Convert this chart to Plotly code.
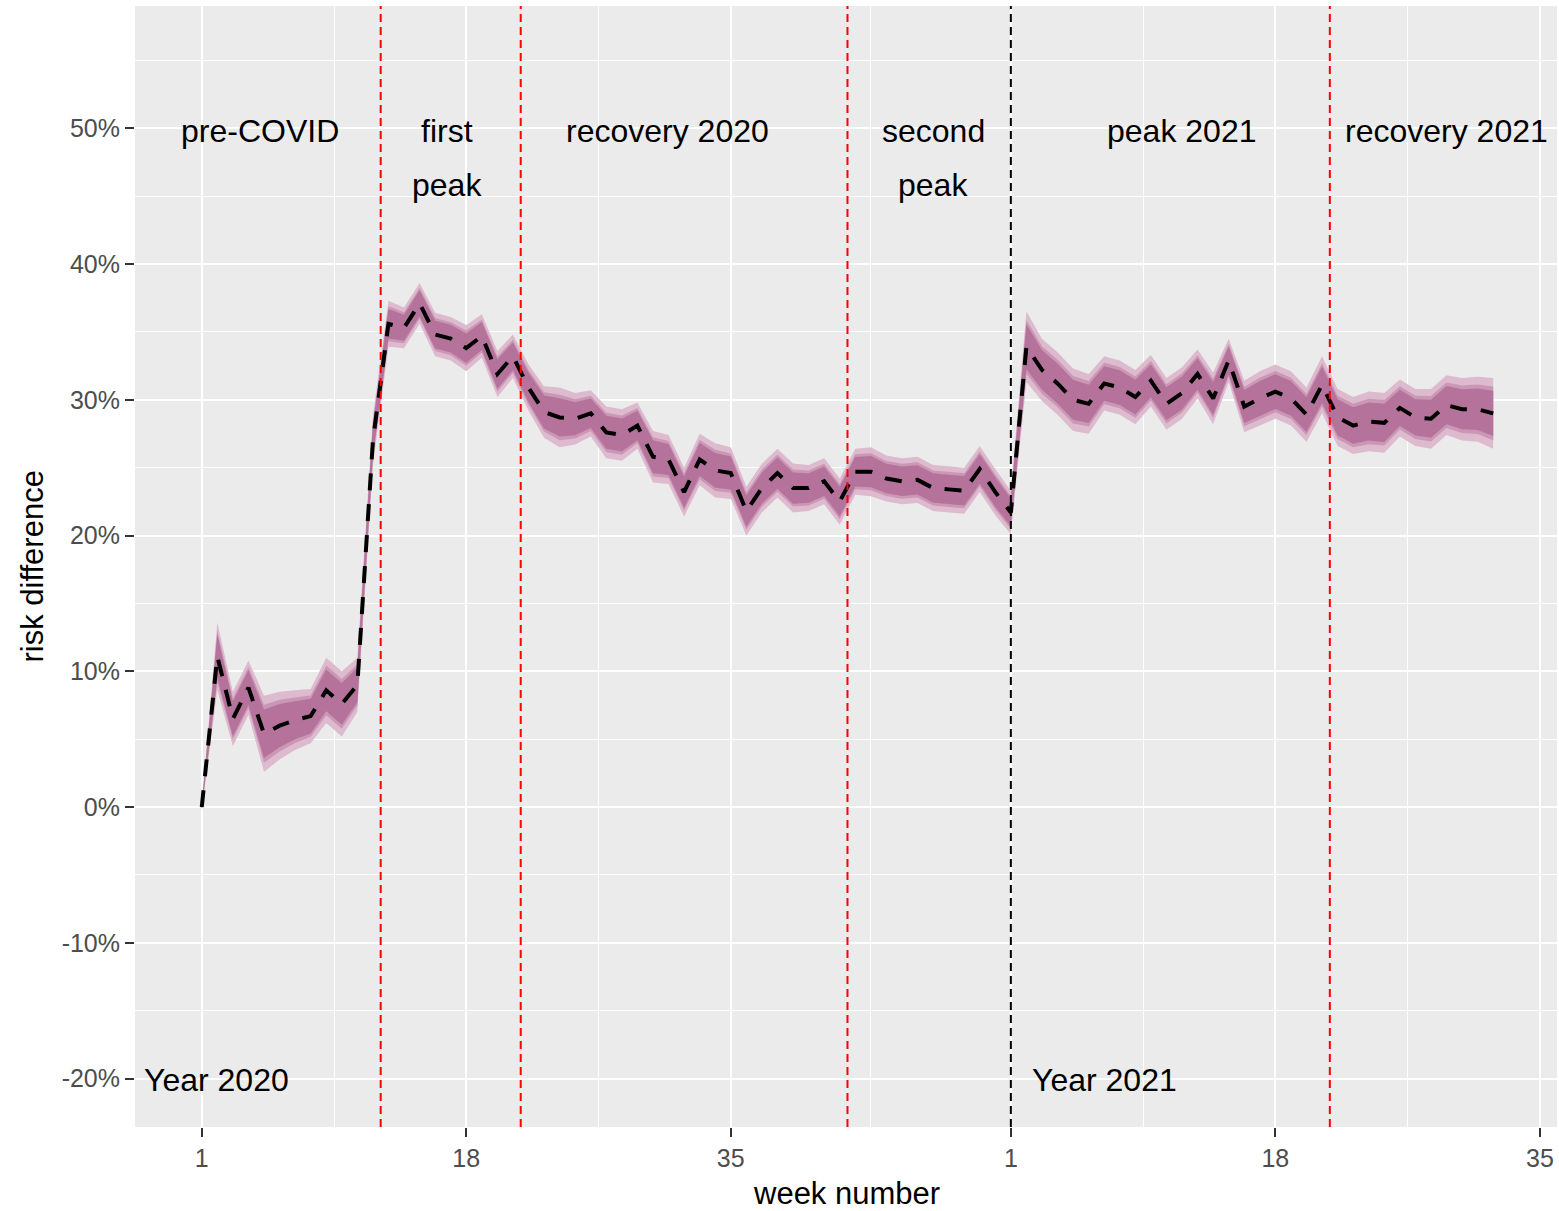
import plotly.graph_objects as go

# ---------------- data ----------------
# x position index: 2020 weeks 1..52, then 2021 week w at index 52 + w
week_index = list(range(1, 85))

risk_diff = [0, 11.1, 6.5, 8.8, 5.4, 6.0, 6.4, 6.7, 8.6, 7.6, 9.0,
             27.0, 35.6, 35.3, 37.1, 34.8, 34.5, 33.8, 34.7, 31.9, 33.2,
             30.9, 29.1, 28.7, 28.6, 29.0, 27.6, 27.4, 28.1, 25.8, 25.6,
             23.2, 25.6, 24.8, 24.6, 21.8, 23.5, 24.6, 23.5, 23.5, 24.0,
             22.5, 24.7, 24.7, 24.2, 24.0, 24.1, 23.5, 23.4, 23.3, 24.9, 23.2, 21.7,
             33.9, 32.2, 31.2, 30.0, 29.7, 31.2, 30.9, 30.2, 31.4, 29.7,
             30.5, 31.9, 30.1, 32.9, 29.5, 30.1, 30.6, 30.1, 28.9, 31.1,
             28.7, 28.1, 28.4, 28.3, 29.4, 28.7, 28.6, 29.6, 29.3, 29.3, 29.0]

# half-width of the widest (99%) interval, in percentage points
ci99_half = [0.2, 2.5, 2.0, 2.0, 2.8, 2.5, 2.2, 2.0, 2.4, 2.4, 2.0,
             1.8, 1.7, 1.5, 1.5, 1.6, 1.6, 1.7, 1.6, 1.7, 1.6,
             1.7, 1.9, 2.2, 1.9, 1.7, 1.9, 1.9, 1.7, 1.9, 1.8,
             1.8, 1.9, 2.0, 1.9, 1.8, 1.8, 1.8, 1.8, 1.7, 1.7,
             1.7, 1.7, 1.8, 1.7, 1.7, 1.7, 1.7, 1.7, 1.7, 1.7, 1.7, 1.6,
             2.6, 2.3, 2.3, 2.3, 2.2, 2.0, 2.0, 2.0, 1.9, 1.9,
             1.9, 1.8, 1.9, 1.6, 1.9, 2.0, 2.0, 2.0, 2.0, 2.1,
             2.1, 2.1, 2.2, 2.2, 2.1, 2.1, 2.2, 2.2, 2.3, 2.4, 2.6]

# z multipliers for 99%, 95%, 90% intervals
z_levels = [2.576, 1.96, 1.645]
band_colors = ["#DDBACE", "#CA97B5", "#B5739B"]

x_tickvals = [1, 18, 35, 53, 70, 87]
x_ticktext = ["1", "18", "35", "1", "18", "35"]
x_minor = [9.5, 26.5, 44, 61.5, 78.5]
y_tickvals = [-20, -10, 0, 10, 20, 30, 40, 50]
y_ticktext = ["-20%", "-10%", "0%", "10%", "20%", "30%", "40%", "50%"]
y_minor = [-15, -5, 5, 15, 25, 35, 45, 55]

red_lines = [12.5, 21.5, 42.5, 73.5]
black_lines = [53]

period_labels = ["pre-COVID", "first", "peak", "recovery 2020", "second", "peak",
                 "peak 2021", "recovery 2021"]
period_x = [4.75, 16.78, 16.78, 30.94, 48.0, 48.0, 63.96, 81.0]
period_y = [49.8, 49.8, 45.8, 49.8, 49.8, 45.8, 49.8, 49.8]

year_labels = ["Year 2020", "Year 2021"]
year_x = [-2.85, 54.2]
year_y = [-20.1, -20.1]

FONT = "Liberation Sans, Arial, sans-serif"

fig = go.Figure()

for z, col in zip(z_levels, band_colors):
    upper = [v + h * z / 2.576 for v, h in zip(risk_diff, ci99_half)]
    lower = [v - h * z / 2.576 for v, h in zip(risk_diff, ci99_half)]
    fig.add_trace(go.Scatter(
        x=week_index + week_index[::-1],
        y=upper + lower[::-1],
        fill="toself", fillcolor=col, mode="lines",
        line=dict(width=0, color=col), hoverinfo="skip", showlegend=False))

fig.add_trace(go.Scatter(
    x=week_index, y=risk_diff, mode="lines",
    line=dict(color="black", width=4, dash="17px,14px"),
    showlegend=False))

for xv in red_lines:
    fig.add_shape(type="line", xref="x", yref="paper", x0=xv, x1=xv, y0=0, y1=1,
                  line=dict(color="#FF0000", width=2, dash="8px,5px"), layer="above")
for xv in black_lines:
    fig.add_shape(type="line", xref="x", yref="paper", x0=xv, x1=xv, y0=0, y1=1,
                  line=dict(color="black", width=2, dash="8px,5px"), layer="above")

for t, xv, yv in zip(period_labels, period_x, period_y):
    fig.add_annotation(x=xv, y=yv, text=t, showarrow=False, xanchor="center",
                       yanchor="middle", font=dict(family=FONT, size=32, color="black"))
for t, xv, yv in zip(year_labels, year_x, year_y):
    fig.add_annotation(x=xv, y=yv, text=t, showarrow=False, xanchor="left",
                       yanchor="middle", font=dict(family=FONT, size=32, color="black"))

# axis titles
fig.add_annotation(xref="paper", yref="paper", x=0.5, y=0, yshift=-66,
                   text="week number", showarrow=False, xanchor="center", yanchor="middle",
                   font=dict(family=FONT, size=31, color="black"))
fig.add_annotation(xref="paper", yref="paper", x=0, y=0.5, xshift=-103,
                   text="risk difference", showarrow=False, textangle=-90,
                   xanchor="center", yanchor="middle",
                   font=dict(family=FONT, size=31, color="black"))

fig.update_layout(
    width=1559, height=1211,
    margin=dict(l=135, r=2, t=6, b=84),
    paper_bgcolor="white", plot_bgcolor="#EBEBEB",
    font=dict(family=FONT),
    showlegend=False,
)
fig.update_xaxes(
    range=[-3.29, 88.1], tickvals=x_tickvals, ticktext=x_ticktext,
    showgrid=True, gridcolor="white", gridwidth=2.2, zeroline=False,
    ticks="outside", ticklen=9, tickwidth=1.5, tickcolor="#333333",
    tickfont=dict(family=FONT, size=25, color="#4D4D4D"), showline=False,
    minor=dict(tickvals=x_minor, showgrid=True, gridcolor="white", gridwidth=1.3, ticks=""),
)
fig.update_yaxes(
    range=[-23.56, 59.0], tickvals=y_tickvals, ticktext=y_ticktext,
    showgrid=True, gridcolor="white", gridwidth=2.2, zeroline=False,
    ticks="outside", ticklen=9, tickwidth=1.5, tickcolor="#333333",
    tickfont=dict(family=FONT, size=25, color="#4D4D4D"), showline=False,
    minor=dict(tickvals=y_minor, showgrid=True, gridcolor="white", gridwidth=1.3, ticks=""),
)

fig.write_html("out.html", config={"displayModeBar": False},
               post_script="document.body.style.margin='0px';document.body.style.overflow='hidden';")
